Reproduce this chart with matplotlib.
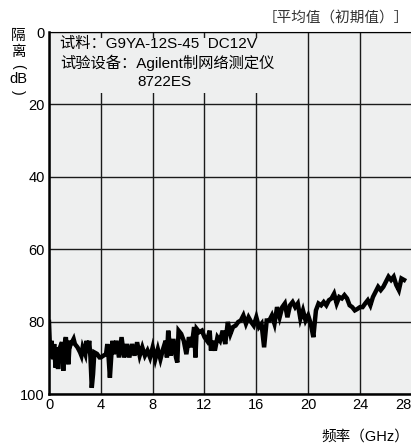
import matplotlib
matplotlib.use("Agg")
import matplotlib.pyplot as plt
from matplotlib.patches import Rectangle

plt.rcParams['font.family'] = ['Liberation Sans', 'Noto Sans CJK SC', 'DejaVu Sans']

# frequency (GHz) and isolation (dB)
freq = [0.0, 0.1, 0.2, 0.3, 0.4, 0.5, 0.6, 0.7, 0.8, 1.0, 1.1, 1.2, 1.3, 1.4, 1.5,
        1.6, 1.7, 1.9, 2.0, 2.2, 2.4, 2.5, 2.6, 2.8, 2.9, 3.0, 3.1, 3.2, 3.3, 3.4,
        3.5, 3.7, 3.9, 4.0, 4.2, 4.4, 4.5, 4.6, 4.7, 4.8, 4.9, 5.0, 5.2, 5.4, 5.6,
        5.8, 6.0, 6.2, 6.4, 6.6, 6.8, 7.0, 7.2, 7.4, 7.6, 7.8, 8.0, 8.2, 8.4, 8.6,
        8.8, 9.0, 9.1, 9.2, 9.4, 9.6, 9.8, 9.9, 10.0, 10.2, 10.4, 10.6, 10.8, 11.0,
        11.2, 11.3, 11.4, 11.6, 11.8, 12.0, 12.2, 12.4, 12.5, 12.6, 12.8, 13.0,
        13.2, 13.4, 13.6, 13.8, 14.0, 14.2, 14.4, 14.6, 14.8, 15.0, 15.2, 15.4,
        15.6, 15.8, 16.0, 16.2, 16.4, 16.6, 16.8, 17.0, 17.2, 17.4, 17.6, 17.8,
        18.0, 18.2, 18.4, 18.6, 18.8, 19.0, 19.2, 19.4, 19.6, 19.8, 20.0, 20.2,
        20.4, 20.6, 20.8, 21.0, 21.2, 21.4, 21.6, 21.8, 22.0, 22.2, 22.4, 22.6,
        22.8, 23.0, 23.2, 23.4, 23.6, 23.8, 24.0, 24.2, 24.4, 24.6, 24.8, 25.0,
        25.2, 25.4, 25.6, 25.8, 26.0, 26.2, 26.4, 26.6, 26.8, 27.0, 27.2, 27.4]
isolation = [80.1, 89.9, 85.3, 90.4, 86.2, 92.7, 87.1, 93.1, 87.6, 85.7, 93.6, 86.2, 84.3, 88.0, 91.8,
             85.3, 86.2, 84.8, 86.2, 87.1, 88.5, 89.4, 87.1, 89.0, 85.3, 88.5, 85.3, 89.9, 98.3, 94.5,
             88.5, 88.9, 89.9, 89.9, 89.4, 89.0, 86.2, 89.9, 95.5, 89.9, 85.3, 89.0, 85.3, 89.9, 84.3,
             89.9, 86.2, 89.9, 86.2, 89.4, 85.7, 89.4, 87.1, 89.4, 88.0, 89.9, 87.1, 90.4, 87.6, 90.4,
             87.6, 85.3, 89.9, 82.5, 89.4, 84.8, 89.9, 91.3, 82.5, 83.4, 85.3, 89.0, 84.3, 87.1,
             81.5, 89.9, 82.0, 82.9, 82.5, 84.3, 85.3, 82.5, 88.0, 85.3, 88.0, 84.3,
             85.3, 82.5, 86.2, 80.1, 83.4, 81.5, 81.1, 80.1, 79.7, 78.3, 80.6, 78.8,
             80.1, 81.1, 78.8, 81.5, 80.6, 87.1, 79.7, 79.7, 78.3, 80.6, 76.0, 78.8,
             76.0, 75.0, 78.8, 75.5, 74.6, 76.0, 75.0, 79.2, 76.9, 79.7, 78.3, 80.6,
             84.3, 76.9, 75.0, 75.5, 74.6, 75.5, 74.1, 73.6, 72.3, 75.0, 73.2, 73.6,
             72.7, 73.6, 75.5, 76.0, 76.9, 76.5, 76.0, 76.0, 75.0, 74.1, 75.5, 73.2,
             71.8, 70.4, 71.3, 70.4, 69.0, 67.6, 68.5, 67.6, 69.9, 71.3, 68.1, 68.5]

x_ticks = [0, 4, 8, 12, 16, 20, 24, 28]
y_ticks = [0, 20, 40, 60, 80, 100]

bg = '#eeefef'
W, H = 411, 444

fig = plt.figure(figsize=(W / 100, H / 100), dpi=100)
ax = fig.add_axes([49 / W, 50 / H, 1 - 49 / W + 0.002, 362 / H])
ax.set_facecolor(bg)

ax.set_xlim(0, 28)
ax.set_ylim(100, 0)
ax.set_xticks(x_ticks)
ax.set_yticks(y_ticks)
ax.tick_params(length=0, labelsize=10.5, pad=3)
ax.get_xticklabels()[-1].set_horizontalalignment('right')
ax.grid(True, color='#1a1a1a', linewidth=1.0)
ax.set_axisbelow(True)

for side in ['left', 'bottom']:
    ax.spines[side].set_linewidth(1.8)
ax.spines['top'].set_linewidth(0.8)
ax.spines['right'].set_visible(False)

# blank area behind the notes (hides the grid there)
ax.add_patch(Rectangle((0.5, 1.6), 18.0, 15.2, facecolor=bg, edgecolor='none', zorder=1.5))

ax.plot(freq, isolation, color='black', linewidth=3.2, solid_joinstyle='miter', zorder=3)

ax.text(0.85, 3.4, '试料：G9YA-12S-45  DC12V', fontsize=11, va='center', zorder=4)
ax.text(0.85, 8.6, '试验设备：Agilent制网络测定仪', fontsize=11, va='center', zorder=4)
ax.text(6.8, 13.7, '8722ES', fontsize=11, va='center', zorder=4)

# vertical y label
fig.text(18 / W, 1 - 36 / H, '隔', fontsize=10.5, ha='center', va='center')
fig.text(18 / W, 1 - 52 / H, '离', fontsize=10.5, ha='center', va='center')
fig.text(18 / W, 1 - 66 / H, '(', fontsize=10, ha='center', va='center', rotation=-90)
fig.text(18 / W, 1 - 79 / H, 'dB', fontsize=10.5, ha='center', va='center')
fig.text(18 / W, 1 - 92 / H, ')', fontsize=10, ha='center', va='center', rotation=-90)

fig.text(409 / W, 1 - 18 / H, '［平均值（初期值）］', fontsize=10.5, ha='right', va='center',
         color='#333333')
fig.text(409 / W, 1 - 437 / H, '频率（GHz）', fontsize=10.5, ha='right', va='center')

fig.savefig('out.png', dpi=100)
